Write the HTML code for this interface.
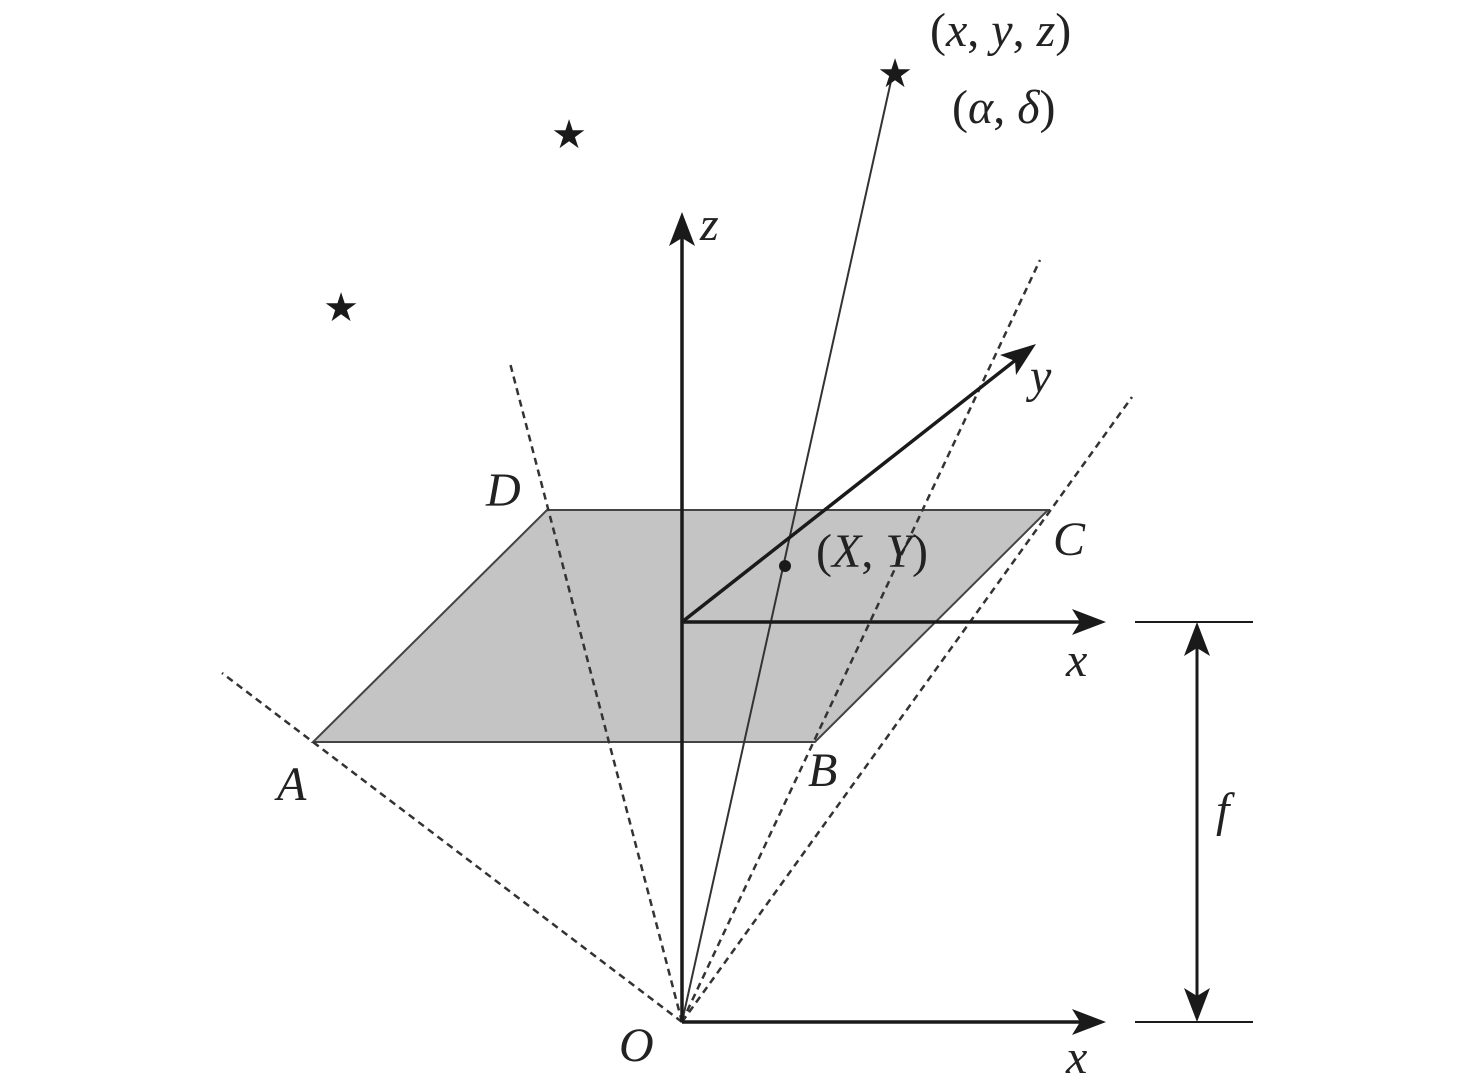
<!DOCTYPE html>
<html><head><meta charset="utf-8"><style>body{margin:0;background:#fff}svg{display:block}text{font-family:"Liberation Serif",serif;font-style:italic;fill:#222}</style></head>
<body>
<svg width="1476" height="1088" viewBox="0 0 1476 1088">
<polygon points="313,742 815,742 1048,510 547,510" fill="#c4c4c4" stroke="#444" stroke-width="2"/>
<g stroke="#333" stroke-width="2.5" stroke-dasharray="7,5" fill="none">
<line x1="682" y1="1022" x2="222" y2="673"/>
<line x1="682" y1="1022" x2="510" y2="363"/>
<line x1="682" y1="1022" x2="1040" y2="260"/>
<line x1="682" y1="1022" x2="1132" y2="397"/>
</g>
<line x1="682" y1="1022" x2="893" y2="72" stroke="#333" stroke-width="2"/>
<g stroke="#1a1a1a" stroke-width="3.5" fill="none">
<line x1="682" y1="1022" x2="682" y2="230"/>
<line x1="682" y1="622" x2="1090" y2="622"/>
<line x1="682" y1="622" x2="1022" y2="355"/>
<line x1="682" y1="1022" x2="1090" y2="1022"/>
<line x1="1197" y1="640" x2="1197" y2="1005" stroke-width="3"/>
</g>
<g fill="#1a1a1a">
<path d="M682,212 L695,246 L682,238 L669,246 Z"/>
<path d="M1106,622 L1072,609 L1080,622 L1072,635 Z"/>
<path d="M1106,1022 L1072,1009 L1080,1022 L1072,1035 Z"/>
<path d="M1036,344 L1016,375 L1015,361 L1000,355 Z"/>
<path d="M1197,622 L1210,656 L1197,648 L1184,656 Z"/>
<path d="M1197,1022 L1210,988 L1197,996 L1184,988 Z"/>
</g>
<g stroke="#1a1a1a" stroke-width="2">
<line x1="1135" y1="622" x2="1253" y2="622"/>
<line x1="1135" y1="1022" x2="1253" y2="1022"/>
</g>
<circle cx="785" cy="566" r="6" fill="#1a1a1a"/>
<g font-size="40">
<text x="895" y="87" text-anchor="middle" style="font-style:normal;fill:#1a1a1a">★</text>
<text x="569" y="148" text-anchor="middle" style="font-style:normal;fill:#1a1a1a">★</text>
<text x="341" y="321" text-anchor="middle" style="font-style:normal;fill:#1a1a1a">★</text>
</g>
<g font-size="48">
<text x="930" y="46" style="font-style:normal">(<tspan font-style="italic">x</tspan>, <tspan font-style="italic">y</tspan>, <tspan font-style="italic">z</tspan>)</text>
<text x="952" y="123" style="font-style:normal">(<tspan font-style="italic">α</tspan>, <tspan font-style="italic">δ</tspan>)</text>
<text x="700" y="240">z</text>
<text x="1030" y="392">y</text>
<text x="816" y="567" style="font-style:normal">(<tspan font-style="italic">X</tspan>, <tspan font-style="italic">Y</tspan>)</text>
<text x="486" y="506">D</text>
<text x="1053" y="555">C</text>
<text x="1066" y="676">x</text>
<text x="277" y="800">A</text>
<text x="808" y="786">B</text>
<text x="1216" y="826">f</text>
<text x="619" y="1061">O</text>
<text x="1066" y="1073">x</text>
</g>
</svg>
</body></html>
